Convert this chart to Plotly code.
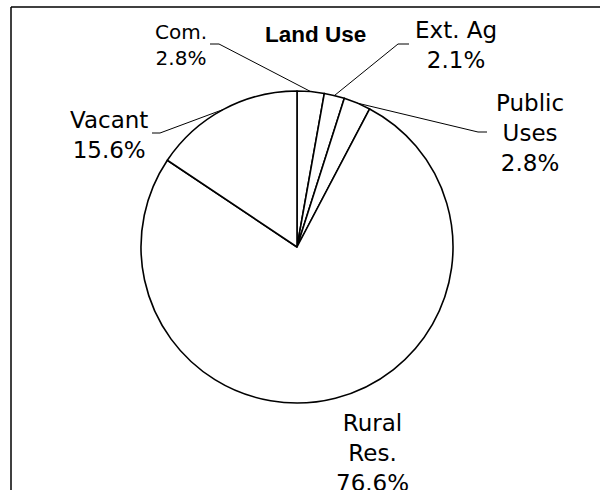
import math
import plotly.graph_objects as go

# ---- data ----
categories = ["Com.", "Ext. Ag", "Public Uses", "Rural Res.", "Vacant"]
label_text = ["Com.", "Ext. Ag", "Public<br>Uses", "Rural<br>Res.", "Vacant"]
values = [2.8, 2.1, 2.8, 76.6, 15.6]
title_text = "Land Use"

W, H = 600, 490
CX, CY, R = 297, 247, 156  # pie centre / radius in px


def px(x):
    return x / W


def py(y):
    return 1 - y / H


fig = go.Figure()
fig.add_trace(go.Pie(
    labels=categories,
    values=values,
    sort=False,
    direction="clockwise",
    rotation=0,
    textinfo="none",
    hoverinfo="none",
    showlegend=False,
    marker=dict(colors=["white"] * len(values), line=dict(color="black", width=1.6)),
    domain=dict(x=[px(CX - R), px(CX + R)], y=[py(CY + R), py(CY - R)]),
))

total = sum(values)
cum = 0
mids = []
for v in values:
    mids.append((cum + v / 2) / total * 2 * math.pi)
    cum += v


def arc_pt(i):
    a = mids[i]
    return CX + R * math.sin(a), CY - R * math.cos(a)


# label placement (px): centre x, centre y, font size, stub start, stub end
label_layout = [
    (181, 45, 20, (210, 44), (219, 44)),
    (456, 45, 23, (409, 44), (398, 44)),
    (530, 133, 23, (487, 132), (478, 132)),
    (372, 453, 23, None, None),
    (109, 135, 23, (152, 133), (160, 133)),
]

annotations = []
shapes = []
for i, (lx, ly, fs, s0, s1) in enumerate(label_layout):
    annotations.append(dict(
        text=f"{label_text[i]}<br>{values[i]:.1f}%",
        x=px(lx), y=py(ly), xref="paper", yref="paper",
        xanchor="center", yanchor="middle", showarrow=False, align="center",
        font=dict(family="DejaVu Sans", size=fs, color="black"),
    ))
    if s0 is not None:
        ex, ey = arc_pt(i)
        path = (f"M {px(s0[0])},{py(s0[1])} L {px(s1[0])},{py(s1[1])} "
                f"L {px(ex)},{py(ey)}")
        shapes.append(dict(type="path", xref="paper", yref="paper", path=path,
                           line=dict(color="black", width=1)))

annotations.append(dict(
    text=f"<b>{title_text}</b>", x=px(315), y=py(35), xref="paper", yref="paper",
    xanchor="center", yanchor="middle", showarrow=False,
    font=dict(family="Liberation Sans, Arial", size=22.5, color="black"),
))

# chart frame (top and left edges visible)
shapes.append(dict(type="line", xref="paper", yref="paper",
                   x0=px(11), y0=py(7), x1=1.05, y1=py(7),
                   line=dict(color="black", width=1.5)))
shapes.append(dict(type="line", xref="paper", yref="paper",
                   x0=px(11), y0=py(7), x1=px(11), y1=-0.05,
                   line=dict(color="black", width=1.5)))

fig.update_layout(
    width=W, height=H,
    margin=dict(l=0, r=0, t=0, b=0),
    paper_bgcolor="white", plot_bgcolor="white",
    annotations=annotations, shapes=shapes,
)

fig.write_html(
    "out.html",
    config={"displayModeBar": False},
    post_script="document.body.style.margin='0';document.body.style.overflow='hidden';",
)
